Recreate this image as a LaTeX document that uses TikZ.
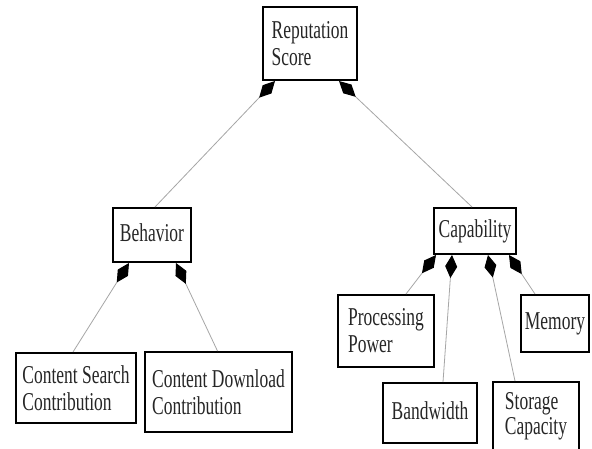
\documentclass[tikz,border=0pt]{standalone}
\usepackage{fontspec}
\setmainfont[FakeStretch=0.68]{Liberation Serif}
\usetikzlibrary{arrows.meta,calc}
\tikzset{
  box/.style={draw=black, line width=2pt, align=left, inner sep=2pt,
    font=\fontsize{25.7}{27}\selectfont, text=black!85},
  one/.style={text depth=5pt},
  conn/.style={draw=black!35, line width=0.8pt,
    -{Diamond[length=23pt,width=12pt,color=black,line width=1pt]}}
}
\begin{document}
\begin{tikzpicture}[x=1pt,y=-1pt]
\useasboundingbox (0,0) rectangle (592,448);
\clip (0,0) rectangle (592,448);
\fill[white] (0,0) rectangle (592,448);
\node[box, minimum width=94pt, minimum height=73pt] (rep) at (310,43.5) {Reputation\\Score};
\node[box, one, minimum width=78pt, minimum height=54pt] (beh) at (152,235) {Behavior};
\node[box, one, minimum width=82pt, minimum height=46pt] (cap) at (475,231) {Capability};
\node[box, minimum width=120pt, minimum height=70pt] (cs) at (76,388) {Content Search\\Contribution};
\node[box, minimum width=147pt, minimum height=80pt] (cd) at (218.5,392) {Content Download\\Contribution};
\node[box, minimum width=96pt, minimum height=72pt] (pp) at (386,331) {Processing\\Power};
\node[box, one, minimum width=68pt, minimum height=57pt] (mem) at (555,323.5) {Memory};
\node[box, one, minimum width=94pt, minimum height=60pt] (bw) at (430,413) {Bandwidth};
\node[box, font=\fontsize{25.7}{25}\selectfont, minimum width=86pt, minimum height=68pt] (sc) at (536,416) {Storage\\Capacity};
\coordinate (repL) at ($(rep.south west)+(13,0)$);
\coordinate (repR) at ($(rep.south west)+(77,0)$);
\coordinate (behL) at ($(beh.south west)+(17,0)$);
\coordinate (behR) at ($(beh.south west)+(64,0)$);
\coordinate (capA) at ($(cap.south west)+(3,0)$);
\coordinate (capB) at ($(cap.south west)+(19,0)$);
\coordinate (capC) at ($(cap.south west)+(55,0)$);
\coordinate (capD) at ($(cap.south west)+(76,0)$);
\draw[conn] ($(beh.north)+(3,0)$) -- (repL);
\draw[conn] ($(cap.north)+(-3,0)$) -- (repR);
\draw[conn] ($(cs.north)+(-3,0)$) -- (behL);
\draw[conn] ($(cd.north)+(-1,0)$) -- (behR);
\draw[conn] ($(pp.north)+(20,0)$) -- (capA);
\draw[conn] ($(bw.north)+(13,0)$) -- (capB);
\draw[conn] ($(sc.north)+(-21,0)$) -- (capC);
\draw[conn] ($(mem.north)+(-20,0)$) -- (capD);
\end{tikzpicture}
\end{document}
